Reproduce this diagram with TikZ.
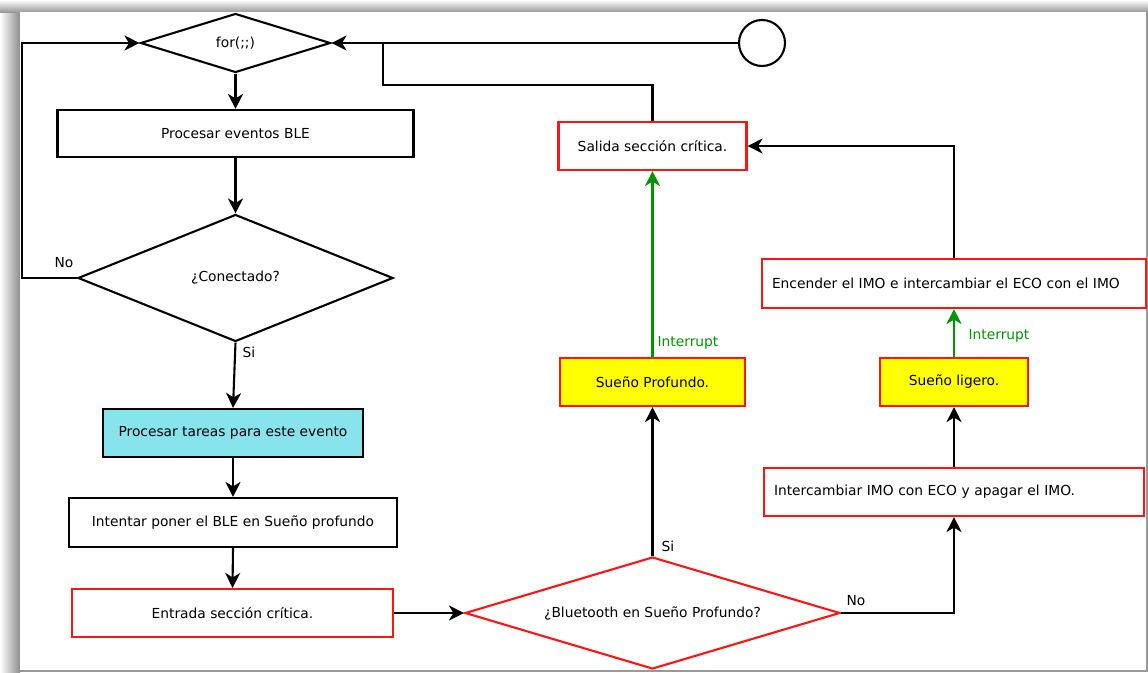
\documentclass[tikz,border=0pt]{standalone}
\usepackage{fontspec}
\setmainfont{DejaVu Sans}
\usetikzlibrary{shapes.geometric,arrows.meta}
\definecolor{boxred}{RGB}{255,20,20}
\definecolor{boxcyan}{RGB}{136,228,236}
\definecolor{boxyellow}{RGB}{255,255,0}
\definecolor{intgreen}{RGB}{0,150,0}
\tikzset{
  box/.style={draw, rectangle, minimum height=48pt, inner sep=0pt, align=center},
  redbox/.style={box, draw=boxred},
  dia/.style={draw, diamond, inner sep=0pt},
  arr/.style={-{Stealth[length=15pt,width=15pt,inset=4.5pt]}},
  lbl/.style={inner sep=0pt},
}
\begin{document}
\begin{tikzpicture}[x=1pt, y=-1pt, line width=2.1pt, font=\fontsize{13.8}{16}\selectfont]
\useasboundingbox (0,0) rectangle (1148,672);
% frame and shadow
\fill[white] (0,0) rectangle (1148,672);
\shade[left color=white, right color=black!45, draw=none] (0,0) rectangle (20,672);
\shade[top color=white, bottom color=black!40, draw=none] (0,0) rectangle (1148,12);
\fill[white] (20,12) rectangle (1146,670);
\fill[black!40] (1146,12) rectangle (1148,672);
\fill[black!40] (20,670) rectangle (1148,672);

% nodes
\node[dia, aspect=3.22, minimum width=190pt, minimum height=59pt] (for) at (235.5,43) {for(;;)};
\node[box, minimum width=356pt, minimum height=47pt] (ev) at (235.5,133.5) {Procesar eventos BLE};
\node[dia, aspect=2.48, minimum width=315pt, minimum height=127pt] (con) at (235.5,278) {¿Conectado?};
\node[box, fill=boxcyan, minimum width=260pt] (tar) at (233,433) {Procesar tareas para este evento};
\node[box, minimum width=328pt, minimum height=49pt] (int) at (233,522.5) {Intentar poner el BLE en Sueño profundo};
\node[redbox, minimum width=321pt] (ent) at (232.5,613) {Entrada sección crítica.};
\node[dia, draw=boxred, aspect=3.35, minimum width=375pt, minimum height=112pt] (blu) at (652.5,613) {¿Bluetooth en Sueño Profundo?};
\node[redbox, fill=boxyellow, minimum width=185pt] (prof) at (652.5,382) {Sueño Profundo.};
\node[redbox, minimum width=188pt] (sal) at (652.5,146) {Salida sección crítica.};
\node[draw, circle, minimum size=46pt, inner sep=0pt] (circ) at (762,43) {};
\node[redbox, text width=364pt, align=left, inner xsep=10pt, minimum height=49pt] (enc) at (954,283.5) {Encender el IMO e intercambiar el ECO con el IMO};
\node[redbox, fill=boxyellow, minimum width=148pt] (lig) at (954,382) {Sueño ligero.};
\node[redbox, text width=360pt, align=left, inner xsep=10pt] (itc) at (954,492) {Intercambiar IMO con ECO y apagar el IMO.};

% labels
\node[lbl] (lno1) at (64,263) {No};
\node[lbl] (lsi1) at (249,352) {Si};
\node[lbl] (lsi2) at (668,546) {Si};
\node[lbl] (lno2) at (856,601) {No};
\node[lbl, text=intgreen] (lint1) at (688,343) {Interrupt};
\node[lbl, text=intgreen] (lint2) at (999,336) {Interrupt};

% helper coordinates
\coordinate (leftrail) at (22,278);
\coordinate (bend) at (383,85);
\coordinate (join) at (383,43);

% connectors
\draw[arr] (for.south) -- (ev.north);
\draw[arr] (ev.south) -- (con.north);
\draw[arr] (con.south) -- (tar.north);
\draw[arr] (con.west) -- (leftrail) |- (for.west);
\draw[arr] (tar.south) -- (int.north);
\draw[arr] (int.south) -- (ent.north);
\draw[arr] (ent.east) -- (blu.west);
\draw[arr] (blu.north) -- (prof.south);
\draw[arr, draw=intgreen, fill=intgreen] (prof.north) -- (sal.south);
\draw (sal.north) |- (bend) -- (join);
\draw[arr] (circ.west) -- (for.east);
\draw[arr] (blu.east) -| (itc.south);
\draw[arr] (itc.north) -- (lig.south);
\draw[arr, draw=intgreen, fill=intgreen] (lig.north) -- (enc.south);
\draw[arr] (enc.north) |- (sal.east);
\end{tikzpicture}
\end{document}
